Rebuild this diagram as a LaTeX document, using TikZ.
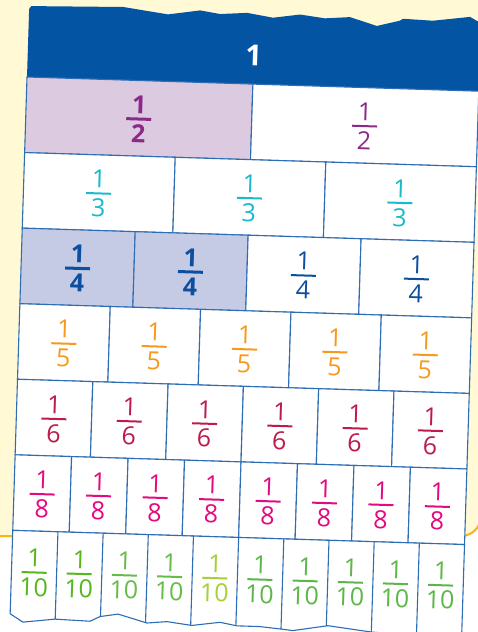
\documentclass[tikz,border=0pt]{standalone}
\usepackage{fontspec}
\setmainfont{Open Sans}
\definecolor{hdrblue}{HTML}{0454A4}
\definecolor{bgyellow}{HTML}{FFF9D6}
\definecolor{edgeorange}{HTML}{F7B512}
\definecolor{cellblue}{HTML}{2E6DB4}
\definecolor{lilac}{HTML}{DCCAE0}
\definecolor{purpletxt}{HTML}{8C2A8A}
\definecolor{cyantxt}{HTML}{19B9CE}
\definecolor{lavender}{HTML}{C6CBE5}
\definecolor{bluetxt}{HTML}{0B4F9E}
\definecolor{orangetxt}{HTML}{F8991D}
\definecolor{crimsontxt}{HTML}{BD1B4C}
\definecolor{magentatxt}{HTML}{E5097F}
\definecolor{gA}{HTML}{55B71B}
\definecolor{gB}{HTML}{66BC47}
\definecolor{gC}{HTML}{A6CF3B}
\definecolor{gD}{HTML}{5CB748}
\tikzset{
  cell/.style={draw=cellblue, line width=1.1pt},
  fracnum/.style={inner sep=0pt, anchor=base, transform shape},
  fracden/.style={inner sep=0pt, anchor=base, transform shape},
}
% #1 name, #2 x, #3 y (rule), #4 colour, #5 denominator, #6 weight, #7 rule width
\newcommand{\fracat}[7]{%
  \draw[#4, line width=#7pt] ({#2-12.5},#3) -- ({#2+12.5},#3);
  \node[fracnum, text=#4, font=\fontsize{25}{25}\selectfont#6] (#1a) at ({#2},{#3-5.4}) {1};
  \node[fracden, text=#4, font=\fontsize{25}{25}\selectfont#6] (#1b) at ({#2},{#3+23.6}) {#5};
}
% #1 n, #2 y0, #3 text colour, #4 shaded cells, #5 shade colour
\newcommand{\fracrow}[5]{%
  \foreach \k in {1,...,#1}{
    \pgfmathsetmacro{\xa}{(\k-1)*452/#1}
    \pgfmathsetmacro{\xb}{\k*452/#1}
    \pgfmathsetmacro{\xc}{(\k-0.5)*452/#1}
    \pgfmathsetmacro{\yb}{#2+75.6}
    \pgfmathsetmacro{\yc}{#2+38.5}
    \ifnum\k>#4\relax
      \def\shd{white}\def\wt{\mdseries}\def\rw{2}%
    \else
      \def\shd{#5}\def\wt{\bfseries}\def\rw{3}%
    \fi
    \draw[cell, fill=\shd] (\xa,#2) rectangle (\xb,\yb);
    \fracat{r#1c\k}{\xc}{\yc}{#3}{#1}{\wt}{\rw}
  }%
}
\begin{document}
\begin{tikzpicture}[x=1pt,y=-1pt]
\useasboundingbox (0,0) rectangle (478,632);
\clip (0,0) rectangle (478,632);
\fill[white] (0,0) rectangle (478,632);
\draw[fill=bgyellow, draw=edgeorange, line width=2pt, rounded corners=20pt] (-40,-40) rectangle (481,536);
\begin{scope}[shift={(27,77)}, rotate=-1.8]
  % header
  \fill[hdrblue] (0,1) -- (0,-68) -- (2,-71) -- (94,-73) -- (139,-67) -- (171,-72) -- (191,-69) -- (218,-71)
    -- (244,-67) -- (271,-71) -- (296,-68) -- (321,-70) -- (348,-62) -- (371,-68) -- (374,-70)
    -- (404,-69) -- (441,-74) -- (452,-68) -- (452,1) -- cycle;
  \node[inner sep=0pt, text=white, transform shape, font=\fontsize{29}{29}\selectfont\bfseries] (one) at (226,-29) {1};
  % rows
  \fracrow{2}{0}{purpletxt}{1}{lilac}
  \fracrow{3}{75.6}{cyantxt}{0}{white}
  \fracrow{4}{151.2}{bluetxt}{2}{lavender}
  \fracrow{5}{226.8}{orangetxt}{0}{white}
  \fracrow{6}{302.4}{crimsontxt}{0}{white}
  \fracrow{8}{378}{magentatxt}{0}{white}
  % tenths row with torn bottom
  \path[fill=white] (0,453.6) -- (452,453.6) -- (452,549) -- (407,546) -- (362,544) -- (353,543) -- (318,539)
    -- (283,545) -- (273,544) -- (250,542) -- (227,542) -- (210,539) -- (182,543) -- (157,540)
    -- (137,542) -- (108,534) -- (90,537) -- (80,542) -- (45,541) -- (13,545) -- (0,537) -- cycle;
  \begin{scope}
    \clip (0,453.6) -- (452,453.6) -- (452,549) -- (407,546) -- (362,544) -- (353,543) -- (318,539)
      -- (283,545) -- (273,544) -- (250,542) -- (227,542) -- (210,539) -- (182,543) -- (157,540)
      -- (137,542) -- (108,534) -- (90,537) -- (80,542) -- (45,541) -- (13,545) -- (0,537) -- cycle;
    \foreach \k in {1,...,9}{
      \draw[cell] ({\k*45.2},453.6) -- ({\k*45.2},560);
    }
  \end{scope}
  \draw[cell, line join=round] (0,453.6) -- (452,453.6) -- (452,549) -- (407,546) -- (362,544) -- (353,543) -- (318,539)
    -- (283,545) -- (273,544) -- (250,542) -- (227,542) -- (210,539) -- (182,543) -- (157,540)
    -- (137,542) -- (108,534) -- (90,537) -- (80,542) -- (45,541) -- (13,545) -- (0,537) -- cycle;
  \foreach \k/\c in {1/gA,2/gA,3/gB,4/gB,5/gC,6/gD,7/gD,8/gD,9/gD,10/gD}{
    \pgfmathsetmacro{\xc}{(\k-0.5)*45.2}
    \fracat{r10c\k}{\xc}{495}{\c}{10}{\mdseries}{2}
  }
\end{scope}
\end{tikzpicture}
\end{document}
